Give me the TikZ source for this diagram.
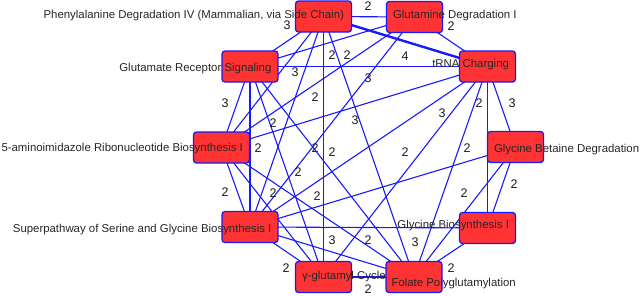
\documentclass[tikz,border=0pt]{standalone}
\usepackage{fontspec}
\setmainfont{Liberation Sans}
\usepackage{tikz}
\usepackage{xcolor}
\usetikzlibrary{backgrounds}
\definecolor{boxred}{RGB}{255,51,51}
\definecolor{linkblue}{RGB}{25,25,255}
\tikzset{
  pw/.style={draw=linkblue,fill=boxred,line width=1.3pt,rounded corners=3pt,minimum width=56pt,minimum height=31pt,inner sep=0pt},
  pwname/.style={font=\fontsize{11.4}{12}\selectfont,text=black!85,inner sep=0pt},
  link/.style={draw=linkblue,line width=1.1pt},
  wt/.style={font=\fontsize{12.5}{13}\selectfont,text=black!90,inner sep=0pt}
}
\begin{document}
\begin{tikzpicture}[x=1pt,y=-1pt]
\useasboundingbox (0,0) rectangle (640,295);
\node[pw] (phe) at (323.5,16.5) {};
\node[pw] (gln) at (414.5,17) {};
\node[pw] (trna) at (487.5,66.5) {};
\node[pw] (betaine) at (515.5,147) {};
\node[pw] (glybio) at (487.5,228) {};
\node[pw] (folate) at (414,277) {};
\node[pw] (glucyc) at (323.5,277) {};
\node[pw] (serine) at (250,227) {};
\node[pw] (air) at (221.5,147.5) {};
\node[pw] (glurec) at (250,66.5) {};
\begin{scope}[on background layer]
\draw[link] (phe.center) -- (gln.center);
\draw[link,line width=2.4pt] (phe.center) -- (trna.center);
\draw[link] (phe.center) -- (folate.center);
\draw[link] (phe.center) -- (glucyc.center);
\draw[link] (phe.center) -- (serine.center);
\draw[link] (phe.center) -- (air.center);
\draw[link] (phe.center) -- (glurec.center);
\draw[link] (gln.center) -- (trna.center);
\draw[link] (gln.center) -- (serine.center);
\draw[link] (gln.center) -- (air.center);
\draw[link] (gln.center) -- (glurec.center);
\draw[link] (trna.center) -- (betaine.center);
\draw[link] (trna.center) -- (glybio.center);
\draw[link] (trna.center) -- (folate.center);
\draw[link] (trna.center) -- (glucyc.center);
\draw[link] (trna.center) -- (serine.center);
\draw[link] (trna.center) -- (air.center);
\draw[link] (trna.center) -- (glurec.center);
\draw[link] (betaine.center) -- (glybio.center);
\draw[link] (betaine.center) -- (folate.center);
\draw[link] (betaine.center) -- (serine.center);
\draw[link] (glybio.center) -- (folate.center);
\draw[link] (glybio.center) -- (serine.center);
\draw[link] (folate.center) -- (glucyc.center);
\draw[link] (folate.center) -- (serine.center);
\draw[link] (folate.center) -- (air.center);
\draw[link] (folate.center) -- (glurec.center);
\draw[link] (glucyc.center) -- (serine.center);
\draw[link] (glucyc.center) -- (air.center);
\draw[link] (glucyc.center) -- (glurec.center);
\draw[link] (serine.center) -- (air.center);
\draw[link] (serine.center) -- (glurec.center);
\draw[link] (air.center) -- (glurec.center);
\end{scope}
\node[pwname,anchor=base east] (pheT) at ([xshift=-8pt,yshift=-1.5pt]phe.east) {Phenylalanine Degradation IV (Mammalian, via Side Chain)};
\node[pwname,anchor=base west] (glnT) at ([xshift=7pt,yshift=-1pt]gln.west) {Glutamine Degradation I};
\node[pwname,anchor=base east] (trnaT) at ([xshift=-7pt,yshift=-0.5pt]trna.east) {tRNA Charging};
\node[pwname,anchor=base west] (betaineT) at ([xshift=7pt,yshift=-5pt]betaine.west) {Glycine Betaine Degradation};
\node[pwname,anchor=base east] (glybioT) at ([xshift=-7pt,yshift=0pt]glybio.east) {Glycine Biosynthesis I};
\node[pwname,anchor=base west] (folateT) at ([xshift=6pt,yshift=-9pt]folate.west) {Folate Polyglutamylation};
\node[pwname,anchor=base west] (glucycT) at ([xshift=7pt,yshift=-2pt]glucyc.west) {γ-glutamyl Cycle};
\node[pwname,anchor=base east] (serineT) at ([xshift=-7pt,yshift=-5pt]serine.east) {Superpathway of Serine and Glycine Biosynthesis I};
\node[pwname,anchor=base east] (airT) at ([xshift=-7pt,yshift=-3.5pt]air.east) {5-aminoimidazole Ribonucleotide Biosynthesis I};
\node[pwname,anchor=base east] (glurecT) at ([xshift=-7pt,yshift=-4.5pt]glurec.east) {Glutamate Receptor Signaling};
\node[wt] (w1) at (368,6) {2};
\node[wt] (w2) at (287,25) {3};
\node[wt] (w3) at (451,26) {2};
\node[wt] (w4) at (332,55) {2};
\node[wt] (w5) at (347,55) {2};
\node[wt] (w6) at (405,56) {4};
\node[wt] (w7) at (295,72) {3};
\node[wt] (w8) at (368,78) {3};
\node[wt] (w9) at (225,103) {3};
\node[wt] (w10) at (315,97) {2};
\node[wt] (w11) at (479,103) {2};
\node[wt] (w12) at (512,103) {3};
\node[wt] (w13) at (442,113) {3};
\node[wt] (w14) at (355,120) {3};
\node[wt] (w15) at (273,123) {2};
\node[wt] (w16) at (258,148) {2};
\node[wt] (w17) at (315,148) {2};
\node[wt] (w18) at (332,152) {2};
\node[wt] (w19) at (405,152) {2};
\node[wt] (w20) at (467,148) {2};
\node[wt] (w21) at (298,172) {2};
\node[wt] (w22) at (514,184) {2};
\node[wt] (w23) at (464,193) {2};
\node[wt] (w24) at (225,192) {2};
\node[wt] (w25) at (273,193) {2};
\node[wt] (w26) at (317,196) {2};
\node[wt] (w27) at (332,240) {3};
\node[wt] (w28) at (368,240) {2};
\node[wt] (w29) at (415,242) {3};
\node[wt] (w30) at (286,268) {2};
\node[wt] (w31) at (451,268) {2};
\node[wt] (w32) at (368,289) {2};
\end{tikzpicture}
\end{document}
